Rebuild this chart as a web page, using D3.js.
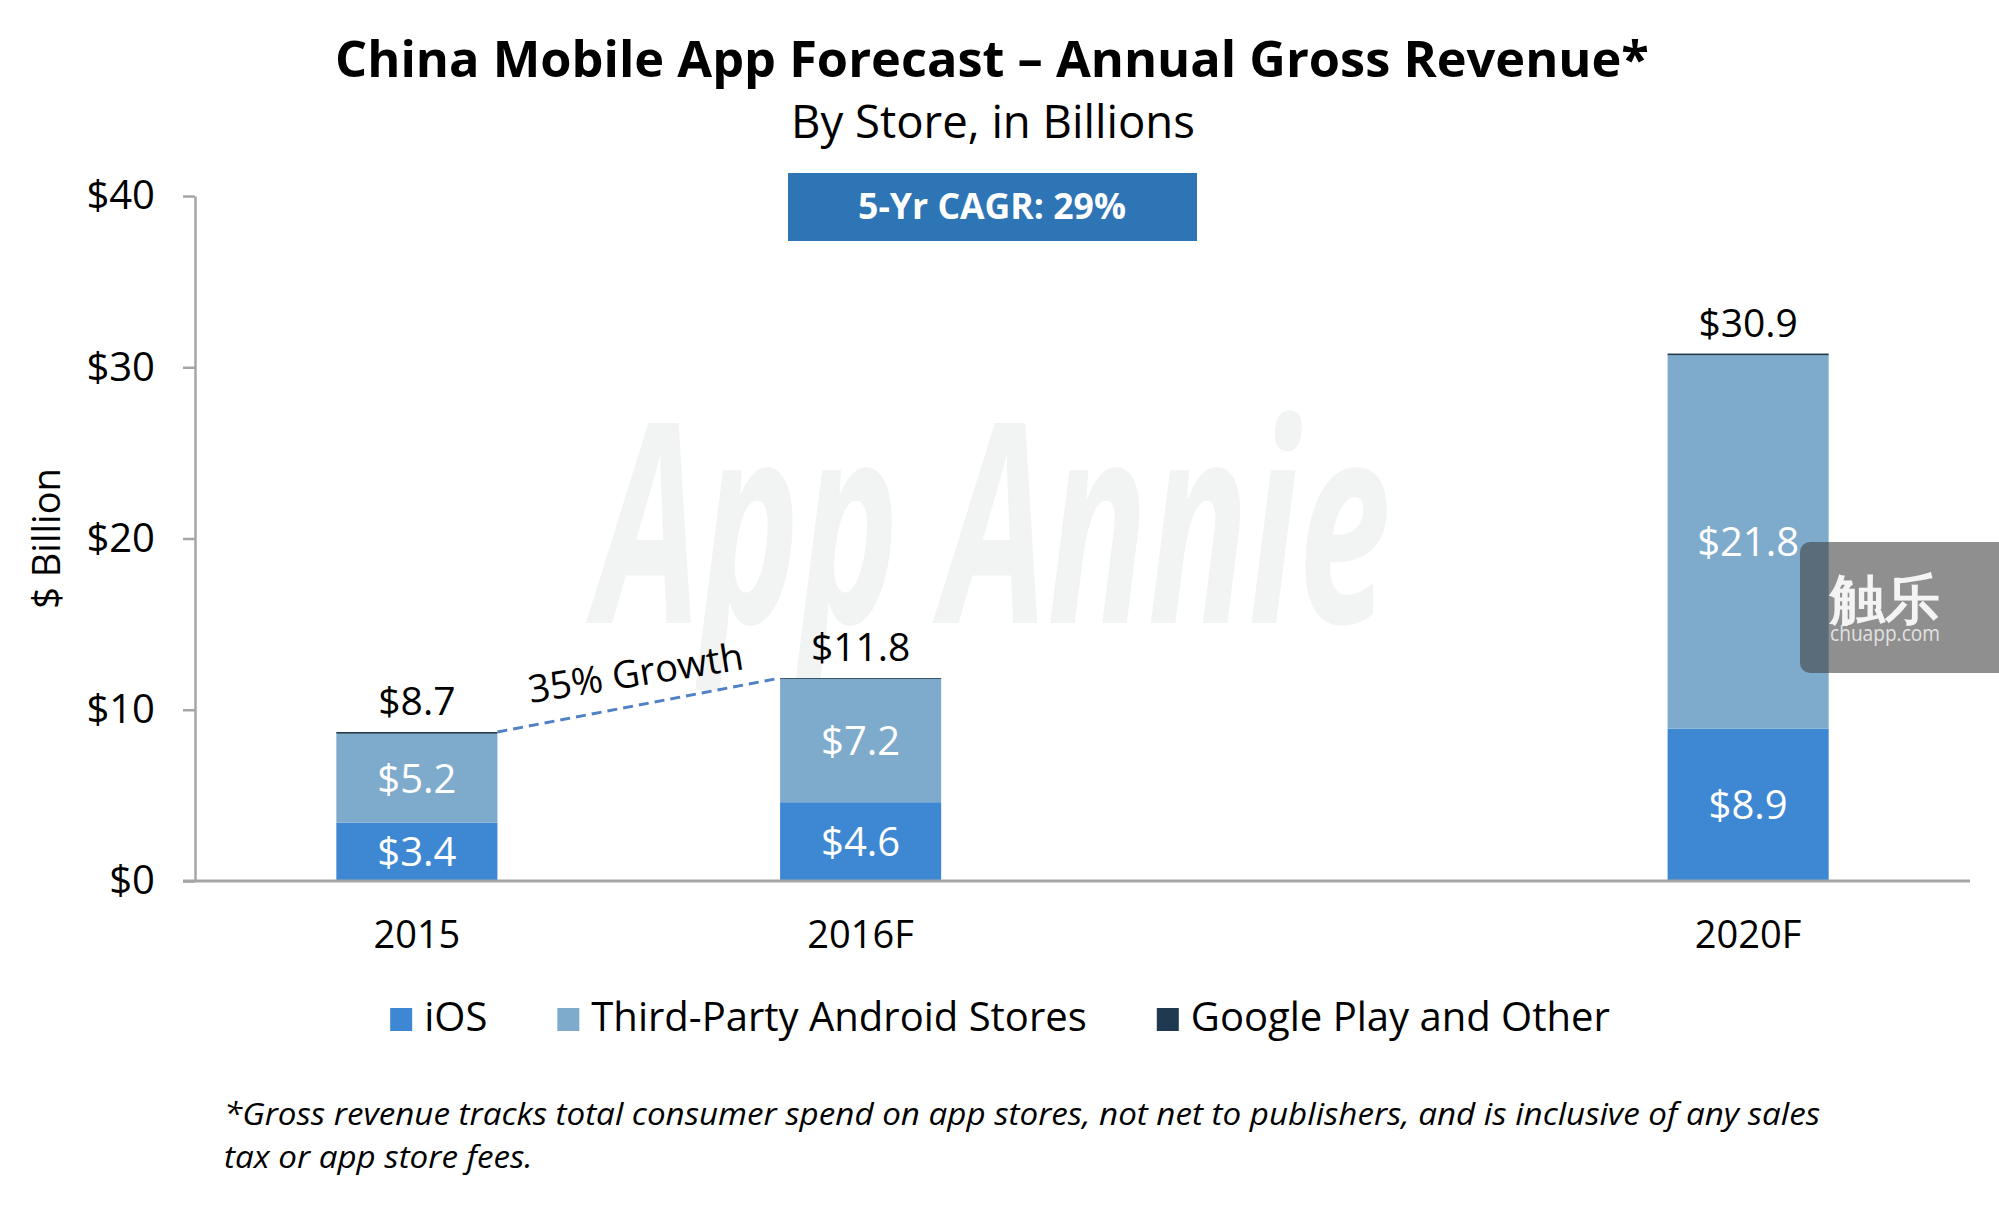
<!DOCTYPE html>
<html><head><meta charset="utf-8">
<script src="https://cdn.jsdelivr.net/npm/d3@7"></script>
<style>body{margin:0;background:#fff;} svg{display:block;} text{font-family:"Open Sans",sans-serif;}</style>
</head><body><svg id="chart" width="1999" height="1215"></svg>
<script>
// ---- data ----
const categories = ["2015", "2016F", "2020F"];
const slots = ["2015", "2016F", "gap", "2020F"];
const seriesKeys = ["ios", "android", "google"];
const seriesNames = ["iOS", "Third-Party Android Stores", "Google Play and Other"];
const iosValues = [3.4, 4.6, 8.9];
const androidValues = [5.2, 7.2, 21.8];
const googleValues = [0.1, 0.05, 0.1];
const totalLabels = ["$8.7", "$11.8", "$30.9"];
const yTicks = [0, 10, 20, 30, 40];
const titleText = "China Mobile App Forecast \u2013 Annual Gross Revenue*";
const subtitleText = "By Store, in Billions";
const cagrText = "5-Yr CAGR: 29%";
const growthText = "35% Growth";
const yTitle = "$ Billion";
const footLines = ["*Gross revenue tracks total consumer spend on app stores, not net to publishers, and is inclusive of any sales",
                   "tax or app store fees."];

// ---- styles ----
const colors = {ios: "#3e88d3", android: "#7eabcc", google: "#1f3a50"};
const axisColor = "#a6a6a6";

const svg = d3.select("#chart");
const rows = categories.map((c, i) => ({cat: c, ios: iosValues[i], android: androidValues[i], google: googleValues[i]}));
const stacked = d3.stack().keys(seriesKeys)(rows);

const x = d3.scaleBand().domain(slots).range([195, 1970]).paddingInner(0.637).paddingOuter(0.3185);
const y = d3.scaleLinear().domain([0, 40]).range([881, 196]);

function fitWidth(sel, w) {
  const L = sel.node().getComputedTextLength();
  const fs = parseFloat(sel.attr("font-size"));
  sel.attr("font-size", fs * w / L);
}

// watermark
svg.append("text").attr("x", 596).attr("y", 623)
  .attr("font-family", "'Liberation Sans Narrow','DejaVu Sans Condensed',sans-serif")
  .attr("font-style", "italic").attr("font-weight", 700).attr("font-size", 280).attr("fill", "#f2f3f3")
  .attr("textLength", 795).attr("lengthAdjust", "spacingAndGlyphs")
  .text("App Annie");

// title
const t1 = svg.append("text").attr("x", 992).attr("y", 77).attr("text-anchor", "middle")
  .attr("font-weight", 700).attr("font-size", 46).attr("fill", "#000").text(titleText);
fitWidth(t1, 1314);
const t2 = svg.append("text").attr("x", 993).attr("y", 138).attr("text-anchor", "middle")
  .attr("font-size", 40).attr("fill", "#000").text(subtitleText);
fitWidth(t2, 404);

// CAGR box
svg.append("rect").attr("x", 788).attr("y", 173).attr("width", 409).attr("height", 68).attr("fill", "#2e75b6");
const t3 = svg.append("text").attr("x", 992).attr("y", 219).attr("text-anchor", "middle")
  .attr("font-weight", 700).attr("font-size", 34).attr("fill", "#fff").text(cagrText);
fitWidth(t3, 268);

// bars
const gBars = svg.append("g");
stacked.forEach(layer => {
  gBars.selectAll(null).data(layer).enter().append("rect")
    .attr("x", d => x(d.data.cat))
    .attr("width", x.bandwidth())
    .attr("y", d => y(d[1]))
    .attr("height", d => y(d[0]) - y(d[1]))
    .attr("fill", colors[layer.key]);
});

// segment labels (iOS, Android)
stacked.slice(0, 2).forEach(layer => {
  gBars.selectAll(null).data(layer).enter().append("text")
    .attr("x", d => x(d.data.cat) + x.bandwidth() / 2)
    .attr("y", d => (y(d[0]) + y(d[1])) / 2)
    .attr("dy", "0.36em")
    .attr("text-anchor", "middle").attr("font-size", 40).attr("fill", "#fff")
    .text(d => "$" + (d[1] - d[0]).toFixed(1));
});

// totals
const topLayer = stacked[stacked.length - 1];
gBars.selectAll(null).data(topLayer).enter().append("text")
  .attr("x", d => x(d.data.cat) + x.bandwidth() / 2)
  .attr("y", d => y(d[1]) - 17)
  .attr("text-anchor", "middle").attr("font-size", 39).attr("fill", "#000")
  .text((d, i) => totalLabels[i]);

// growth annotation
const p0 = {x: x(categories[0]) + x.bandwidth(), y: y(topLayer[0][1])};
const p1 = {x: x(categories[1]), y: y(topLayer[1][1])};
svg.append("line").attr("x1", p0.x).attr("y1", p0.y).attr("x2", p1.x).attr("y2", p1.y)
  .attr("stroke", "#4f81c4").attr("stroke-width", 3).attr("stroke-dasharray", "10,6");
const mx = (p0.x + p1.x) / 2, my = (p0.y + p1.y) / 2;
svg.append("text").attr("transform", `translate(${mx - 1},${my - 19}) rotate(-9)`)
  .attr("text-anchor", "middle").attr("font-size", 38).attr("fill", "#000").text(growthText);

// y axis
const yAxis = svg.append("g").attr("transform", `translate(${x.range()[0]},0)`)
  .call(d3.axisLeft(y).tickValues(yTicks).tickSize(12).tickSizeOuter(0).tickPadding(28).tickFormat(d => "$" + d));
yAxis.select(".domain").attr("stroke", axisColor).attr("stroke-width", 2.5);
yAxis.selectAll(".tick line").attr("stroke", axisColor).attr("stroke-width", 2.5);
yAxis.selectAll(".tick text").attr("font-size", 40).attr("fill", "#000")
  .attr("font-family", "'Open Sans',sans-serif");
yAxis.attr("font-family", null).attr("font-size", null);

// x axis
svg.append("line").attr("x1", x.range()[0] - 12).attr("x2", x.range()[1])
  .attr("y1", y(0)).attr("y2", y(0)).attr("stroke", axisColor).attr("stroke-width", 3);
const xAxis = svg.append("g").attr("transform", `translate(0,${y(0)})`)
  .call(d3.axisBottom(x).tickValues(categories).tickSize(0).tickPadding(40));
xAxis.select(".domain").remove();
xAxis.selectAll(".tick text").attr("font-size", 38).attr("fill", "#000")
  .attr("font-family", "'Open Sans',sans-serif");
xAxis.attr("font-family", null).attr("font-size", null);

// y title
svg.append("text").attr("transform", `translate(60,${(y(0) + y(40)) / 2}) rotate(-90)`)
  .attr("text-anchor", "middle").attr("font-size", 38).attr("fill", "#000").text(yTitle);

// legend
const legend = svg.append("g");
const items = [];
seriesKeys.forEach((k, i) => {
  const g = legend.append("g");
  g.append("rect").attr("width", 22).attr("height", 23).attr("y", -23).attr("fill", colors[k]);
  const tx = g.append("text").attr("x", 34).attr("y", 0).attr("font-size", 40).attr("fill", "#000").text(seriesNames[i]);
  items.push({g, w: 34 + tx.node().getComputedTextLength()});
});
const gap = 70;
const totalW = d3.sum(items, d => d.w) + gap * (items.length - 1);
let cx = 1000 - totalW / 2;
items.forEach(it => { it.g.attr("transform", `translate(${cx},1031)`); cx += it.w + gap; });

// footnote
const f1 = svg.append("text").attr("x", 224).attr("y", 1125).attr("font-style", "italic")
  .attr("font-size", 31).attr("fill", "#000").text(footLines[0]);
const nat1 = f1.node().getComputedTextLength();
const ratio = 1596 / nat1;
f1.attr("textLength", 1596).attr("lengthAdjust", "spacingAndGlyphs");
const f2 = svg.append("text").attr("x", 224).attr("y", 1168).attr("font-style", "italic")
  .attr("font-size", 31).attr("fill", "#000").text(footLines[1]);
f2.attr("textLength", f2.node().getComputedTextLength() * ratio).attr("lengthAdjust", "spacingAndGlyphs");

// chuapp overlay
svg.append("rect").attr("x", 1800).attr("y", 542).attr("width", 215).attr("height", 131).attr("rx", 10)
  .attr("fill", "rgba(64,64,64,0.59)");
svg.append("text").attr("x", 1830).attr("y", 618).attr("font-family", "'Noto Sans CJK SC',sans-serif")
  .attr("font-weight", 700).attr("font-size", 54).attr("fill", "#f4f4f4")
  .attr("textLength", 110).attr("lengthAdjust", "spacingAndGlyphs").text("触乐");
svg.append("text").attr("x", 1830).attr("y", 641).attr("font-size", 21).attr("fill", "#e2e2e2")
  .attr("textLength", 110).attr("lengthAdjust", "spacingAndGlyphs").text("chuapp.com");
</script></body></html>
